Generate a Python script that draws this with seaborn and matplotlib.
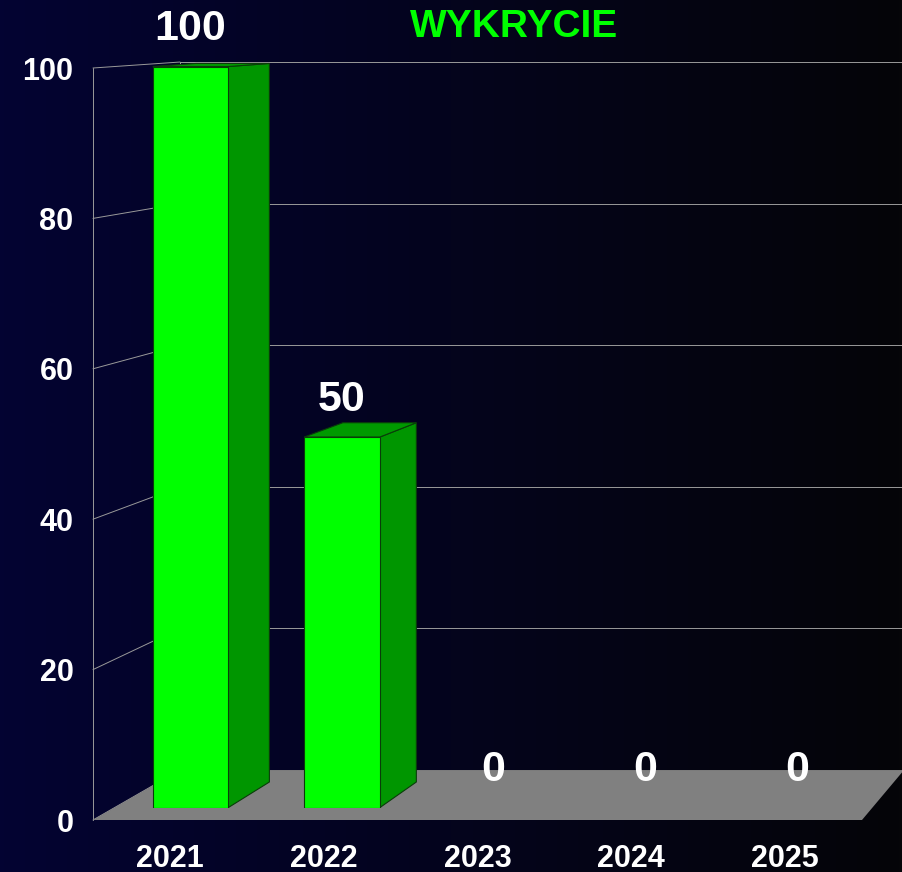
import numpy as np
import pandas as pd
import seaborn as sns
import matplotlib.pyplot as plt
from matplotlib.patches import Polygon
from matplotlib.colors import LinearSegmentedColormap

# data
years = ["2021", "2022", "2023", "2024", "2025"]
counts = [100, 50, 0, 0, 0]
y_ticks = [0, 20, 40, 60, 80, 100]
title = "WYKRYCIE"

df = pd.DataFrame({"rok": years, "wykrycia": counts})

sns.set_theme(style="white")
plt.rcParams["font.family"] = ["Liberation Sans", "DejaVu Sans"]

W, H = 903, 872
fig = plt.figure(figsize=(W / 100, H / 100), dpi=100)

# background: navy on the left fading to black
bg = fig.add_axes([0, 0, 1, 1])
cmap = LinearSegmentedColormap.from_list("bg", ["#030332", "#050508"])
bg.imshow(np.linspace(0, 1, 256).reshape(1, -1), aspect="auto", cmap=cmap,
          extent=[0, 1, 0, 1])
bg.axis("off")

# fake perspective: planes are scaled copies of the front wall toward a vanishing point
VX, VY = 1580, -34
FRONT = (93, 68, 862, 820)  # left, top, right, bottom (pixels, from top)
S_BAR_FRONT, S_BAR_BACK, S_WALL = 0.9854, 0.9555, 0.9415


def add_plane_axes(s):
    l, t, r, b = [VX + s * (v - VX) if i % 2 == 0 else VY + s * (v - VY)
                  for i, v in enumerate(FRONT)]
    ax = fig.add_axes([l / W, 1 - b / H, (r - l) / W, (b - t) / H])
    ax.set_xlim(-0.5, len(years) - 0.5)
    ax.set_ylim(0, 100)
    ax.set_facecolor("none")
    for sp in ax.spines.values():
        sp.set_visible(False)
    return ax


def to_plane(ax_from, ax_to, pts, k=1.0):
    # data point on one plane -> display -> shrink toward V -> data of target axes
    d = ax_from.transData.transform(pts)
    vd = np.array([VX, H - VY])
    d = vd + k * (d - vd)
    return ax_to.transData.inverted().transform(d)


# back wall with grid
axk = add_plane_axes(S_WALL)
axk.set_xticks([])
axk.set_yticks(y_ticks)
axk.set_yticklabels([])
axk.tick_params(length=0)
axk.grid(axis="y", color="#9a9a9a", linewidth=0.7)

# front wall (only for tick labels)
axw = add_plane_axes(1.0)

# left wall lines
for t in y_ticks:
    p = to_plane(axw, axk, [(-0.5, t)])[0]
    axk.plot([p[0], -0.5], [p[1], t], color="#9a9a9a", lw=0.7, clip_on=False)
fb = to_plane(axw, axk, [(-0.5, 0), (-0.5, 100)])
axk.plot(fb[:, 0], fb[:, 1], color="#9a9a9a", lw=0.7, clip_on=False)
axk.plot([-0.5, -0.5], [0, 100], color="#9a9a9a", lw=0.7, clip_on=False)

# floor
n = len(years)
front_edge = to_plane(axw, axk, [(-0.5, 0), (n - 0.5, 0)])
floor = Polygon([front_edge[0], front_edge[1], (n - 0.5, 0), (-0.5, 0)],
                closed=True, facecolor="#808080", edgecolor="none",
                clip_on=False, zorder=3)
axk.add_patch(floor)

axw.set_xticks(range(n))
axw.set_xticklabels(years)
axw.set_yticks(y_ticks)
axw.tick_params(length=0, colors="white", labelsize=22)
axw.tick_params(axis="y", pad=14)
axw.tick_params(axis="x", pad=17)
for lab in axw.get_xticklabels() + axw.get_yticklabels():
    lab.set_fontweight("bold")
axw.set_xlabel("")
axw.set_ylabel("")

# bars: front faces by seaborn, side/top faces pushed back in depth
axb = add_plane_axes(S_BAR_FRONT)
sns.barplot(data=df, x="rok", y="wykrycia", ax=axb, color="#00ff00",
            saturation=1, width=0.5, edgecolor="#0a3d0a", linewidth=0.8)
axb.set_xlim(-0.5, n - 0.5)
axb.set_ylim(0, 100)
axb.set_xticks([])
axb.set_yticks([])
axb.set_xlabel("")
axb.set_ylabel("")

k = S_BAR_BACK / S_BAR_FRONT
for p in list(axb.patches):
    x0, w, h = p.get_x(), p.get_width(), p.get_height()
    if h <= 0:
        p.set_visible(False)
        continue
    p.set_zorder(5)
    bk = to_plane(axb, axb, [(x0, h), (x0 + w, h), (x0 + w, 0)], k)
    side = Polygon([(x0 + w, 0), (x0 + w, h), bk[1], bk[2]], closed=True,
                   facecolor="#009600", edgecolor="#0a3d0a", lw=0.8,
                   clip_on=False, zorder=4)
    top = Polygon([(x0, h), (x0 + w, h), bk[1], bk[0]], closed=True,
                  facecolor="#009a00", edgecolor="#0a3d0a", lw=0.8,
                  clip_on=False, zorder=4)
    axb.add_patch(side)
    axb.add_patch(top)

for i, v in enumerate(counts):
    axb.annotate(str(v), xy=(i, v), xytext=(0, 19), textcoords="offset points",
                 ha="center", va="baseline", color="white", fontsize=31,
                 fontweight="bold", annotation_clip=False)

fig.text(514 / W, 1 - 37 / H, title, ha="center", va="baseline",
         color="#00ff00", fontsize=28, fontweight="bold")

fig.savefig("out.png", dpi=100, facecolor="black")
